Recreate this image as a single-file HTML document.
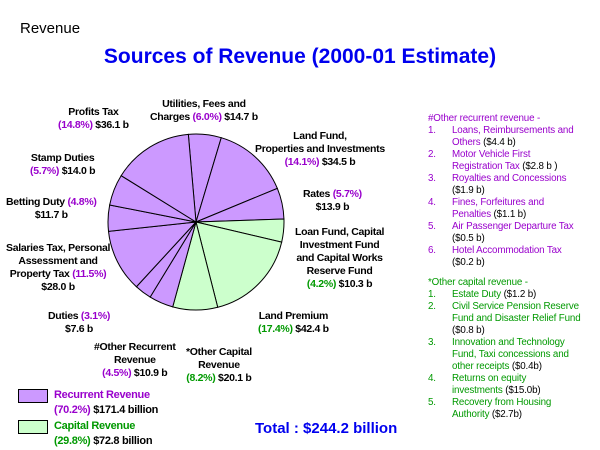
<!DOCTYPE html>
<html><head><meta charset="utf-8"><style>
body{margin:0;width:600px;height:450px;background:#fff;font-family:"Liberation Sans",Arial,sans-serif;position:relative;overflow:hidden}
.a{position:absolute;white-space:nowrap}
.lb{position:absolute;font-size:10.5px;font-weight:bold;color:#000;text-align:center;line-height:13px;letter-spacing:-0.3px}
.p{color:#9900cc}.g{color:#009900}
.side{position:absolute;left:428px;font-size:9.8px;line-height:12px;letter-spacing:-0.15px}
.side div{position:relative;padding-left:24px}
.side span.n{position:absolute;left:0}
</style></head><body>
<div class="a" style="left:20px;top:20px;font-size:15px">Revenue</div>
<div class="a" style="left:0;width:600px;text-align:center;top:45px;font-size:21px;font-weight:bold;color:#0000ee">Sources of Revenue (2000-01 Estimate)</div>
<svg id="pie" width="600" height="450" style="position:absolute;left:0;top:0"></svg>
<div class="lb" style="left:150px;top:98px">Utilities, Fees and<br>Charges <span class="p">(6.0%)</span> $14.7 b</div>
<div class="lb" style="left:58px;top:106px">Profits Tax<br><span class="p">(14.8%)</span> $36.1 b</div>
<div class="lb" style="left:255px;top:130px">Land Fund,<br>Properties and Investments<br><span class="p">(14.1%)</span> $34.5 b</div>
<div class="lb" style="left:30px;top:152px">Stamp Duties<br><span class="p">(5.7%)</span> $14.0 b</div>
<div class="lb" style="left:6px;top:196px">Betting Duty <span class="p">(4.8%)</span><br>$11.7 b</div>
<div class="lb" style="left:303px;top:188px">Rates <span class="p">(5.7%)</span><br>$13.9 b</div>
<div class="lb" style="left:295px;top:226px">Loan Fund, Capital<br>Investment Fund<br>and Capital Works<br>Reserve Fund<br><span class="g">(4.2%)</span> $10.3 b</div>
<div class="lb" style="left:6px;top:242px">Salaries Tax, Personal<br>Assessment and<br>Property Tax <span class="p">(11.5%)</span><br>$28.0 b</div>
<div class="lb" style="left:258px;top:310px">Land Premium<br><span class="g">(17.4%)</span> $42.4 b</div>
<div class="lb" style="left:48px;top:310px">Duties <span class="p">(3.1%)</span><br>$7.6 b</div>
<div class="lb" style="left:94px;top:341px">#Other Recurrent<br>Revenue<br><span class="p">(4.5%)</span> $10.9 b</div>
<div class="lb" style="left:186px;top:346px">*Other Capital<br>Revenue<br><span class="g">(8.2%)</span> $20.1 b</div>
<div class="side" style="top:113px;color:#9900cc">
<div style="padding-left:0">#Other recurrent revenue -</div>
<div><span class="n">1.</span>Loans, Reimbursements and<br>Others <span style="color:#000">($4.4 b)</span></div>
<div><span class="n">2.</span>Motor Vehicle First<br>Registration Tax <span style="color:#000">($2.8 b )</span></div>
<div><span class="n">3.</span>Royalties and Concessions<br><span style="color:#000">($1.9 b)</span></div>
<div><span class="n">4.</span>Fines, Forfeitures and<br>Penalties <span style="color:#000">($1.1 b)</span></div>
<div><span class="n">5.</span>Air Passenger Departure Tax<br><span style="color:#000">($0.5 b)</span></div>
<div><span class="n">6.</span>Hotel Accommodation Tax<br><span style="color:#000">($0.2 b)</span></div>
</div>
<div class="side" style="top:277px;color:#009900">
<div style="padding-left:0">*Other capital revenue -</div>
<div><span class="n">1.</span>Estate Duty <span style="color:#000">($1.2 b)</span></div>
<div><span class="n">2.</span>Civil Service Pension Reserve<br>Fund and Disaster Relief Fund<br><span style="color:#000">($0.8 b)</span></div>
<div><span class="n">3.</span>Innovation and Technology<br>Fund, Taxi concessions and<br>other receipts <span style="color:#000">($0.4b)</span></div>
<div><span class="n">4.</span>Returns on equity<br>investments <span style="color:#000">($15.0b)</span></div>
<div><span class="n">5.</span>Recovery from Housing<br>Authority <span style="color:#000">($2.7b)</span></div>
</div>
<div class="a" style="left:18px;top:389px;width:28px;height:12px;background:#cc99ff;border:1px solid #000"></div>
<div class="a" style="left:54px;top:388px;font-size:11px;font-weight:bold;line-height:15px;letter-spacing:-0.3px;color:#9900cc">Recurrent Revenue<br>(70.2%) <span style="color:#000">$171.4 billion</span></div>
<div class="a" style="left:18px;top:420px;width:28px;height:12px;background:#ccffcc;border:1px solid #000"></div>
<div class="a" style="left:54px;top:419px;font-size:11px;font-weight:bold;line-height:15px;letter-spacing:-0.3px;color:#009900">Capital Revenue<br>(29.8%) <span style="color:#000">$72.8 billion</span></div>
<div class="a" style="left:255px;top:420px;font-size:15px;font-weight:bold;color:#0000ee">Total : $244.2 billion</div>
<script>
const categories=["Utilities, Fees and Charges","Land Fund, Properties and Investments","Rates","Loan Fund","Land Premium","Other Capital Revenue","Other Recurrent Revenue","Duties","Salaries Tax","Betting Duty","Stamp Duties","Profits Tax"];
const values=[14.7,34.5,13.9,10.3,42.4,20.1,10.9,7.6,28.0,11.7,14.0,36.1];
const types=["r","r","r","c","c","c","r","r","r","r","r","r"];
const svg=document.getElementById('pie');
const cx=196,cy=222,r=88,start=-5;
const total=values.reduce((a,b)=>a+b,0);
let ang=start;
function pt(a){const t=(a-90)*Math.PI/180;return [cx+r*Math.cos(t),cy+r*Math.sin(t)];}
values.forEach((v,i)=>{
  const sweep=v/total*360;
  const p1=pt(ang),p2=pt(ang+sweep);
  const path=document.createElementNS('http://www.w3.org/2000/svg','path');
  path.setAttribute('d',`M${cx},${cy} L${p1[0]},${p1[1]} A${r},${r} 0 ${sweep>180?1:0} 1 ${p2[0]},${p2[1]} Z`);
  path.setAttribute('fill',types[i]==='r'?'#cc99ff':'#ccffcc');
  path.setAttribute('stroke','#000');
  path.setAttribute('stroke-width','1');
  
  
  svg.appendChild(path);
  ang+=sweep;
});
</script>
</body></html>
